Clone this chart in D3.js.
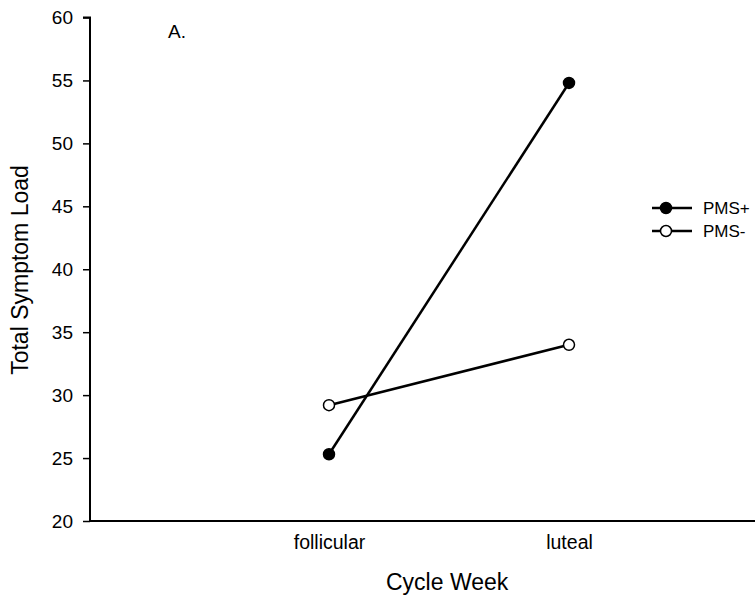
<!DOCTYPE html>
<html><head><meta charset="utf-8">
<script src="https://cdn.jsdelivr.net/npm/d3@7"></script>
<style>body{margin:0;background:#fff}svg{display:block}text{font-family:"Liberation Sans",Arial,sans-serif}</style>
</head><body>
<script>
const categories = ["follicular", "luteal"];
const pmsPlus = [25.3, 54.8];
const pmsMinus = [29.2, 34.0];
const yTicks = [20, 25, 30, 35, 40, 45, 50, 55, 60];
const seriesNames = ["PMS+", "PMS-"];

const W = 755, H = 596;
const svg = d3.select("body").append("svg").attr("width", W).attr("height", H);
const x0 = 90, x1 = 755, yTop = 17.5, yBot = 521;
const x = d3.scalePoint().domain(categories).range([329, 569]).padding(0);
const y = d3.scaleLinear().domain([20, 60]).range([yBot, yTop]);
const FF = "Liberation Sans, Arial, sans-serif";

// y axis
const yAxis = svg.append("g").attr("transform", `translate(${x0},0)`)
  .call(d3.axisLeft(y).tickValues(yTicks).tickSize(7).tickPadding(10));
yAxis.select(".domain").attr("stroke", "#000").attr("stroke-width", 2).attr("d", `M-7,${yTop}H0V${yBot}`);
yAxis.selectAll(".tick line").attr("stroke", "#000").attr("stroke-width", 1.5);
yAxis.selectAll(".tick text").attr("font-size", 19).attr("fill", "#000").attr("font-family", FF);

// x axis
const xAxis = svg.append("g").attr("transform", `translate(0,${yBot})`)
  .call(d3.axisBottom(x).tickSize(0).tickPadding(14));
xAxis.select(".domain").attr("stroke", "#000").attr("stroke-width", 2).attr("d", `M${x0},0H${x1}`);
xAxis.selectAll(".tick text").attr("font-size", 19.5).attr("fill", "#000").attr("font-family", FF);

// titles
svg.append("text").attr("x", 386).attr("y", 590).attr("text-anchor", "start")
  .attr("font-size", 23).text("Cycle Week");
svg.append("text").attr("transform", "translate(28,270) rotate(-90)").attr("text-anchor", "middle")
  .attr("font-size", 23).text("Total Symptom Load");
svg.append("text").attr("x", 168).attr("y", 38).attr("font-size", 19).text("A.");

const line = d3.line().x((d, i) => x(categories[i])).y(d => y(d));
const series = [
  {name: seriesNames[0], values: pmsPlus, fill: "#000"},
  {name: seriesNames[1], values: pmsMinus, fill: "#fff"}
];
series.forEach(s => {
  svg.append("path").attr("d", line(s.values)).attr("fill", "none")
    .attr("stroke", "#000").attr("stroke-width", 2.5);
});
series.forEach(s => {
  svg.selectAll(null).data(s.values).enter().append("circle")
    .attr("cx", (d, i) => x(categories[i])).attr("cy", d => y(d))
    .attr("r", 5.5).attr("fill", s.fill).attr("stroke", "#000").attr("stroke-width", 1.5);
});

// legend
const lg = svg.append("g");
series.forEach((s, i) => {
  const yy = 208 + i * 23;
  lg.append("line").attr("x1", 652).attr("x2", 692).attr("y1", yy).attr("y2", yy)
    .attr("stroke", "#000").attr("stroke-width", 2.5);
  lg.append("circle").attr("cx", 666).attr("cy", yy).attr("r", 5.5)
    .attr("fill", s.fill).attr("stroke", "#000").attr("stroke-width", 1.5);
  lg.append("text").attr("x", 703).attr("y", yy + 6).attr("font-size", 17).text(s.name);
});
</script>
</body></html>
